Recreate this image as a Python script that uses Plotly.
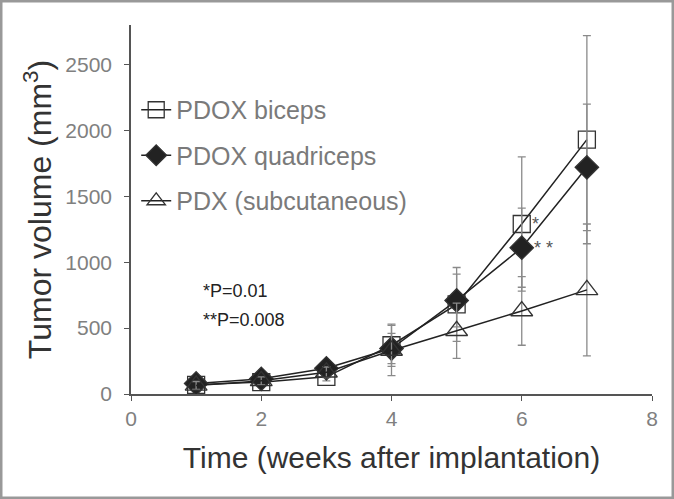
import plotly.graph_objects as go

weeks = [1, 2, 3, 4, 5, 6, 7]
biceps = [70, 90, 130, 370, 680, 1290, 1930]
biceps_err = [30, 30, 30, 160, 280, 510, 790]
quad = [80, 115, 195, 345, 710, 1110, 1720]
quad_err = [30, 30, 30, 115, 200, 300, 480]
pdx = [65, 100, 165, 330, 480, 630, 790]
pdx_err = [30, 30, 40, 190, 210, 260, 500]

x_ticks = [0, 2, 4, 6, 8]
y_ticks = [0, 500, 1000, 1500, 2000, 2500]

ERR = "#8a8a8a"
LINE = "#222222"

fig = go.Figure()

def add(name, y, err, symbol, size, fill, group):
    fig.add_trace(go.Scatter(
        x=weeks, y=y, name=name, mode="lines+markers", legendgroup=group,
        line=dict(color=LINE, width=1.5),
        marker=dict(symbol=symbol, size=size, color=fill,
                    line=dict(color="#333333", width=1.3)),
        error_y=dict(type="data", array=err, visible=True, color=ERR,
                     thickness=1.3, width=4),
    ))

add("PDOX biceps", biceps, biceps_err, "square-open", 17, "#333333", "a")
add("PDOX quadriceps", quad, quad_err, "diamond", 18, "#222222", "b")
add("PDX (subcutaneous)", pdx, pdx_err, "triangle-up-open", 19, "#333333", "c")

font_family = "Liberation Sans, Arial, sans-serif"

fig.update_layout(
    width=674, height=499,
    margin=dict(l=131, r=22, t=25, b=105),
    plot_bgcolor="white", paper_bgcolor="white",
    font=dict(family=font_family),
    showlegend=True,
    legend=dict(x=0.01, y=0.832, xanchor="left", yanchor="top",
                bgcolor="rgba(0,0,0,0)", font=dict(size=25, color="#7a7a7a"),
                tracegroupgap=10, itemwidth=30),
    xaxis=dict(range=[0, 8], tickvals=x_ticks, showline=True, linecolor="#555555",
               linewidth=1.5, ticks="outside", ticklen=5, tickcolor="#555555",
               showgrid=False, zeroline=False,
               tickfont=dict(size=21, color="#808080"),
               title=dict(text="Time (weeks after implantation)",
                          font=dict(size=30, color="#333333"), standoff=18)),
    yaxis=dict(range=[0, 2800], tickvals=y_ticks, showline=True, linecolor="#555555",
               linewidth=1.5, ticks="outside", ticklen=5, tickcolor="#555555",
               showgrid=False, zeroline=False, ticklabelstandoff=8,
               tickfont=dict(size=21, color="#808080"),
               title=dict(text="Tumor volume (mm<sup>3</sup>)",
                          font=dict(size=32, color="#333333"), standoff=4)),
)

fig.add_annotation(x=6.12, y=1290, text="*", showarrow=False, xanchor="left",
                   font=dict(size=18, color="#555555"))
fig.add_annotation(x=6.15, y=1110, text="* *", showarrow=False, xanchor="left",
                   font=dict(size=18, color="#555555"))
fig.add_annotation(x=1.08, y=785, text="*P=0.01", showarrow=False, xanchor="left",
                   font=dict(size=18, color="#222222"))
fig.add_annotation(x=1.08, y=560, text="**P=0.008", showarrow=False, xanchor="left",
                   font=dict(size=18, color="#222222"))

fig.add_shape(type="rect", xref="paper", yref="paper", x0=-130/521, x1=1+21/521,
              y0=-104/369, y1=1+24/369, line=dict(color="#999999", width=3))

fig.write_html("out.html", config={"displayModeBar": False},
               post_script="document.body.style.margin='0';document.body.style.padding='0';")
